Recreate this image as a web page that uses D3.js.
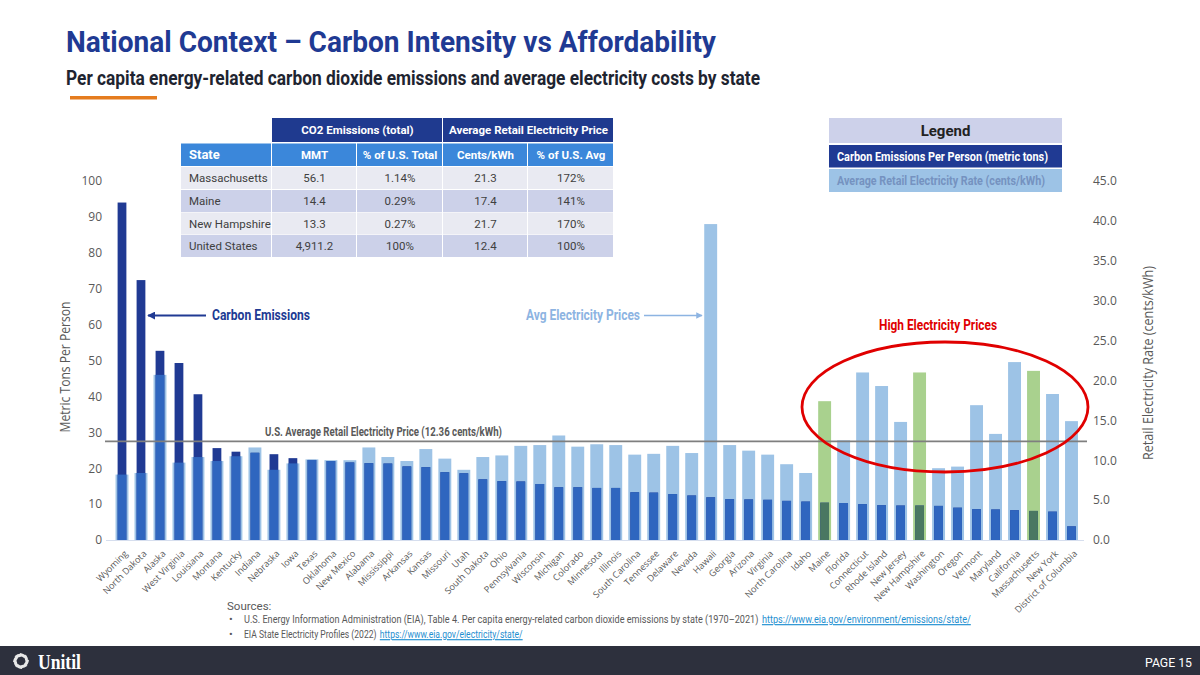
<!DOCTYPE html>
<html><head><meta charset="utf-8">
<script src="https://cdn.jsdelivr.net/npm/d3@7"></script>
<style>body{margin:0;background:#fff}svg{display:block}</style>
</head><body>
<svg id="c" width="1200" height="675"></svg>
<script>
// ---------------- DATA ----------------
const states = ["Wyoming","North Dakota","Alaska","West Virginia","Louisiana","Montana","Kentucky","Indiana","Nebraska","Iowa","Texas","Oklahoma","New Mexico","Alabama","Mississippi","Arkansas","Kansas","Missouri","Utah","South Dakota","Ohio","Pennsylvania","Wisconsin","Michigan","Colorado","Minnesota","Illinois","South Carolina","Tennessee","Delaware","Nevada","Hawaii","Georgia","Arizona","Virginia","North Carolina","Idaho","Maine","Florida","Connecticut","Rhode Island","New Jersey","New Hampshire","Washington","Oregon","Vermont","Maryland","California","Massachusetts","New York","District of Columbia"];
// Carbon emissions per person (metric tons) - left axis
const emissions = [94.0,72.4,52.7,49.3,40.6,25.6,24.6,24.3,23.9,22.8,22.3,22.0,21.6,21.4,21.3,20.5,20.3,18.9,18.6,16.9,16.4,16.3,15.6,14.7,14.7,14.5,14.5,13.3,13.2,12.8,12.4,11.9,11.4,11.3,11.2,10.9,10.7,10.4,10.3,10.0,9.7,9.6,9.6,9.5,9.0,8.6,8.5,8.3,8.1,7.9,3.8];
// Average retail electricity rate (cents/kWh) - right axis
const prices = [8.2,8.4,20.7,9.7,10.4,9.9,10.5,11.6,8.8,9.6,10.1,10.0,10.0,11.6,10.4,9.9,11.4,10.2,8.8,10.4,10.6,11.8,11.9,13.1,11.7,12.0,11.9,10.7,10.8,11.8,10.9,39.6,11.9,11.2,10.7,9.5,8.4,17.4,12.5,21.0,19.3,14.8,21.0,9.0,9.2,16.9,13.3,22.3,21.2,18.3,14.9];
const highlighted = ["Maine","New Hampshire","Massachusetts"];
const usAvgPrice = 12.36;
const leftTicks = [0,10,20,30,40,50,60,70,80,90,100];
const rightTicks = [0,5,10,15,20,25,30,35,40,45];

// Table data
const tableStates = ["Massachusetts","Maine","New Hampshire","United States"];
const tableMMT = ["56.1","14.4","13.3","4,911.2"];
const tablePctTotal = ["1.14%","0.29%","0.27%","100%"];
const tableCents = ["21.3","17.4","21.7","12.4"];
const tablePctAvg = ["172%","141%","170%","100%"];
const tableGroupHeaders = ["CO2 Emissions (total)","Average Retail Electricity Price"];
const tableColHeaders = ["State","MMT","% of U.S. Total","Cents/kWh","% of U.S. Avg"];

// ---------------- DRAW ----------------
const svg = d3.select('#c');
const NARROW = '"Liberation Sans Narrow","Arial Narrow",Roboto,"Liberation Sans",sans-serif';
const SANS = '"Open Sans","Noto Sans",sans-serif';
const NAVY = '#203A93', MID = '#2F66BF', LIGHT = '#9DC3E6', GREEN = '#A9D18E', DGREEN = '#4A7762';

function txt(x,y,s,o){
  const t = (o.parent||svg).append('text').attr('x',x).attr('y',y).text(s)
    .attr('font-family',o.ff||NARROW).attr('font-size',o.fs||12)
    .attr('font-weight',o.fw||400).attr('fill',o.fill||'#404040')
    .attr('text-anchor',o.anchor||'start');
  if(o.len) t.attr('textLength',o.len).attr('lengthAdjust','spacingAndGlyphs');
  return t;
}

// Title
txt(66,52,"National Context – Carbon Intensity vs Affordability",{fs:30,fw:700,fill:'#1F3A93',len:650});
txt(66,85,"Per capita energy-related carbon dioxide emissions and average electricity costs by state",{fs:20,fw:700,fill:'#1E2430',len:694});
svg.append('rect').attr('x',70).attr('y',96).attr('width',87).attr('height',3.5).attr('fill','#E57C1F');

// Scales
const x = d3.scaleBand().domain(states).range([112.5,1081]).paddingInner(0.32).paddingOuter(0.16);
const yL = d3.scaleLinear().domain([0,100]).range([540,181]);
const yR = d3.scaleLinear().domain([0,45]).range([540,181]);

// baseline
svg.append('line').attr('x1',106).attr('x2',1084).attr('y1',540.5).attr('y2',540.5).attr('stroke','#D6DEEE').attr('stroke-width',1);

const data = states.map((s,i)=>({s,e:emissions[i],p:prices[i],h:highlighted.includes(s)}));
const g = svg.append('g');
// price bars
g.selectAll('rect.p').data(data).join('rect').attr('class','p')
  .attr('x',d=>x(d.s)).attr('width',x.bandwidth())
  .attr('y',d=>yR(d.p)).attr('height',d=>540-yR(d.p))
  .attr('fill',d=>d.h?GREEN:LIGHT);
const dw = x.bandwidth()*0.68;
const dx = (x.bandwidth()-dw)/2;
// emission bars (navy full)
g.selectAll('rect.e').data(data).join('rect').attr('class','e')
  .attr('x',d=>x(d.s)+dx).attr('width',dw)
  .attr('y',d=>yL(d.e)).attr('height',d=>540-yL(d.e))
  .attr('fill',NAVY);
// overlapping part
g.selectAll('rect.o').data(data).join('rect').attr('class','o')
  .attr('x',d=>x(d.s)+dx).attr('width',dw)
  .attr('y',d=>Math.max(yL(d.e),yR(d.p))).attr('height',d=>540-Math.max(yL(d.e),yR(d.p)))
  .attr('fill',d=>d.h?DGREEN:MID);

// Axes
const axL = svg.append('g').attr('transform','translate(102,0)')
  .call(d3.axisLeft(yL).tickValues(leftTicks).tickSize(0).tickPadding(0));
const axR = svg.append('g').attr('transform','translate(1093,0)')
  .call(d3.axisRight(yR).tickValues(rightTicks).tickSize(0).tickPadding(0).tickFormat(d3.format('.1f')));
[axL,axR].forEach(a=>{a.select('.domain').remove();
  a.selectAll('text').attr('font-family',SANS).attr('font-size',12).attr('fill','#595959');});

const axB = svg.append('g').attr('transform','translate(0,541)')
  .call(d3.axisBottom(x).tickSize(0).tickPadding(0));
axB.select('.domain').remove();
axB.selectAll('text').attr('y',0).attr('dy','0.35em')
  .attr('transform','translate(4,11) rotate(-45)').style('text-anchor','end')
  .attr('font-family',SANS).attr('font-size',9.1).attr('fill','#595959');

// Axis titles
txt(0,0,"Metric Tons Per Person",{ff:SANS,fs:14,fill:'#595959',anchor:'middle',len:131})
  .attr('transform','translate(70,367) rotate(-90)');
txt(0,0,"Retail Electricity Rate (cents/kWh)",{ff:SANS,fs:14,fill:'#595959',anchor:'middle',len:194})
  .attr('transform','translate(1153,363) rotate(-90)');

// US average line
svg.append('line').attr('x1',105).attr('x2',1087).attr('y1',yR(usAvgPrice)).attr('y2',yR(usAvgPrice))
  .attr('stroke','#7F7F7F').attr('stroke-width',1.8);
txt(265,436,"U.S. Average Retail Electricity Price (12.36 cents/kWh)",{fs:12,fw:700,fill:'#595959',len:237});

// Ellipse
svg.append('ellipse').attr('cx',945).attr('cy',407).attr('rx',143).attr('ry',65)
  .attr('fill','none').attr('stroke','#E00000').attr('stroke-width',2.8);
txt(879,330,"High Electricity Prices",{fs:14.5,fw:700,fill:'#E00000',len:118});

// arrows
const defs = svg.append('defs');
function marker(id,color){
  defs.append('marker').attr('id',id).attr('viewBox','0 0 10 10').attr('refX',9).attr('refY',5)
    .attr('markerWidth',4).attr('markerHeight',4).attr('orient','auto')
    .append('path').attr('d','M0,0 L10,5 L0,10 z').attr('fill',color);
}
marker('an',NAVY); marker('al','#8DB4E2');
svg.append('line').attr('x1',206).attr('x2',148).attr('y1',315.5).attr('y2',315.5)
  .attr('stroke',NAVY).attr('stroke-width',2).attr('marker-end','url(#an)');
txt(212,320,"Carbon Emissions",{fs:14.5,fw:700,fill:'#203A93',len:98});
svg.append('line').attr('x1',644).attr('x2',702).attr('y1',315.5).attr('y2',315.5)
  .attr('stroke','#8DB4E2').attr('stroke-width',1.6).attr('marker-end','url(#al)');
txt(526,320,"Avg Electricity Prices",{fs:14.5,fw:700,fill:'#8DB4E2',len:114});

// ---------------- TABLE ----------------
const colX = [181,272,357,443,528,614];
const t = svg.append('g');
[[1,3],[3,5]].forEach((c,i)=>{
  t.append('rect').attr('x',colX[c[0]]).attr('y',118).attr('width',colX[c[1]]-colX[c[0]]-1).attr('height',24).attr('fill','#1F3A8F');
  txt((colX[c[0]]+colX[c[1]])/2,134,tableGroupHeaders[i],{fs:11.5,fw:700,fill:'#fff',anchor:'middle'});
});
tableColHeaders.forEach((h,i)=>{
  t.append('rect').attr('x',colX[i]).attr('y',143.5).attr('width',colX[i+1]-colX[i]-1).attr('height',22.5).attr('fill','#3B87DA');
  if(i===0) txt(189,159,h,{fs:13,fw:700,fill:'#fff'});
  else txt((colX[i]+colX[i+1])/2,158.5,h,{fs:11.5,fw:700,fill:'#fff',anchor:'middle'});
});
const rowY = [167,190,212.5,235];
const cols = [tableStates,tableMMT,tablePctTotal,tableCents,tablePctAvg];
rowY.forEach((ry,r)=>{
  cols.forEach((col,i)=>{
    t.append('rect').attr('x',colX[i]).attr('y',ry).attr('width',colX[i+1]-colX[i]-1).attr('height',22)
      .attr('fill',r%2===0?'#E9EAF2':'#CCD1E9');
    if(i===0) txt(189,ry+15,col[r],{fs:11.5,fill:'#404040'});
    else txt((colX[i]+colX[i+1])/2,ry+15,col[r],{fs:11.5,fill:'#404040',anchor:'middle'});
  });
});

// ---------------- LEGEND ----------------
svg.append('rect').attr('x',829).attr('y',118).attr('width',233).attr('height',25).attr('fill','#CDD1EA');
txt(945.5,136,"Legend",{fs:15,fw:700,fill:'#222',anchor:'middle'});
svg.append('rect').attr('x',829).attr('y',145).attr('width',233).attr('height',22.5).attr('fill',NAVY);
txt(837,161,"Carbon Emissions Per Person (metric tons)",{fs:13,fw:700,fill:'#fff',len:211});
svg.append('rect').attr('x',829).attr('y',169).attr('width',233).attr('height',23).attr('fill',LIGHT);
txt(837,185,"Average Retail Electricity Rate (cents/kWh)",{fs:13,fw:700,fill:'#7592C0',len:208});

// ---------------- SOURCES ----------------
txt(227,610,"Sources:",{fs:11.5,fill:'#595959'});
txt(229,623,"•",{fs:11,fill:'#595959'});
txt(229,638,"•",{fs:11,fill:'#595959'});
function srcLine(y,plain,link,targetW){
  const gg = svg.append('g');
  const a = txt(0,0,plain,{fs:11.5,fill:'#595959',parent:gg});
  const w1 = a.node().getComputedTextLength();
  const b = txt(w1+4,0,link,{fs:11.5,fill:'#1F8FD0',parent:gg}).attr('text-decoration','underline');
  const w2 = b.node().getComputedTextLength();
  const k = targetW/(w1+4+w2);
  gg.attr('transform','translate(244,'+y+') scale('+k+',1)');
}
srcLine(623,"U.S. Energy Information Administration (EIA), Table 4. Per capita energy-related carbon dioxide emissions by state (1970–2021)","https://www.eia.gov/environment/emissions/state/",727);
srcLine(638,"EIA State Electricity Profiles (2022)","https://www.eia.gov/electricity/state/",279);

// ---------------- FOOTER ----------------
svg.append('rect').attr('x',0).attr('y',646).attr('width',1200).attr('height',29).attr('fill','#2D303D');
const logo = svg.append('g').attr('transform','translate(21,661)');
d3.range(8).forEach(i=>{
  logo.append('path').attr('d','M-1.2,-8 Q3.5,-7.5 5.6,-4.4 L2.6,-3.2 Q1.4,-4.6 -0.6,-4.6 Z')
    .attr('fill','#E8E8E8').attr('transform','rotate('+(i*45)+')');
});
txt(38,669,"Unitil",{ff:'"Liberation Serif","DejaVu Serif",serif',fs:22,fw:700,fill:'#fff',len:43});
txt(1192,667,"PAGE 15",{fs:13.5,fill:'#fff',anchor:'end',len:47});
</script>
</body></html>
